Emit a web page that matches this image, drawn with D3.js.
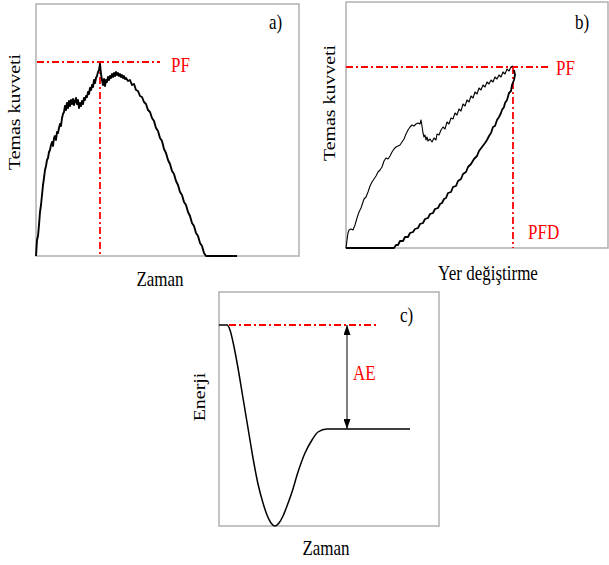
<!DOCTYPE html>
<html><head><meta charset="utf-8">
<script src="https://cdn.jsdelivr.net/npm/d3@7"></script>
<style>
html,body{margin:0;padding:0;background:#fff;}
text{font-family:"Liberation Serif","Times New Roman",serif;}
</style>
</head><body>
<svg id="chart" width="609" height="565"></svg>
<script>
// ---------- Panel a: contact force vs time ----------
const aTime = [0,1,2,3,4,5,6,7,8,9,10,11,12,13,14,15,16,17,18,19,20,21,22,23,24,25,26,27,28,29,30,31,32,33,34,35,36,37,38,39,40,41,42,43,44,45,46,47,48,49,50,51,52,53,54,55,56,57,58,59,60,61,62,63,64,65,66,67,68,69,70,71,72,73,74,75,76,77,78,79,80,81,82,83,84,85,86,87,88,89,90,
  92,94,96,98,100,102,104,106,108,110,112,114,116,118,120,122,124,126,128,130,132,134,136,138,140,142,144,146,148,150,152,154,156,158,160,162,164,166,168,170,201];
const aForce = [0,16,20,31,44,51,61,71,78,86,
  90,96,98,104,106,111,114,110,118,120,
  116,124,123,128,132,130,138,142,144,150,
  146,153,148,155,150,156,152,157,151,155,
  158,152,156,148,153,150,155,152,158,156,
  160,159,164,162,168,166,171,169,176,173,
  178,180,184,186,192,182,176,171,177,170,
  176,174,179,176,180,178,182,179,183,180,
  184,181,183,180,182,179,181,178,180,177,
  178,
  175,176,171,172,166,165,160,159,154,152,146,144,138,135,128,125,118,115,107,103,96,92,85,82,75,71,64,61,54,51,44,40,33,30,23,20,13,10,3,0,
  0];
const aPF = 194, aPFTime = 64, aPFLineEnd = 124;

// ---------- Panel b: contact force vs displacement ----------
const bLoadDisp = [0,1,2,3,5,7,9,11,13,15,17,18,20,22,24,26,28,30,32,34,36,38,40,42,44,46,48,50,52,54,56,58,60,62,64,66,68,70,72,74,75,76,77,78,79,80,81,82,84,86,88,90,91,93,95,97,99,101,103,105,107,109,111,113,115,117,119,121,123,125,127,129,131,133,135,137,139,141,143,145,147,149,151,153,155,157,159,161,163,165,167];
const bLoadForce = [0,8,15,18,19,18,23,30,36,40,46,49,51,56,62,66,69,72,76,78,81,87,90,89,92,96,99,101,102,103,106,109,114,118,121,123,122,124,125,124,128,122,115,111,113,108,111,107,109,106,110,108,114,113,118,121,119,126,124,130,129,135,133,139,137,144,142,148,146,152,150,156,154,160,158,163,161,166,164,168,166,171,169,173,171,176,174,179,177,181,182];
const bUnloadDisp = [168,169,168,166,165,163,161,159,158,156,155,153,151,149,147,145,143,141,139,136,133,131,128,125,122,120,117,115,112,110,107,105,102,100,98,96,94,92,89,87,84,82,79,77,74,72,69,67,64,62,59,57,54,52,50,48,0];
const bUnloadForce = [178,173,168,163,157,155,148,145,141,138,135,131,128,122,121,115,112,108,105,101,97,92,89,84,81,76,74,69,67,62,61,56,55,50,49,45,44,40,39,35,34,30,29,25,24,20,19,16,15,11,11,7,7,3,3,0,0];
const bPF = 181, bPFD = 167, bPFLineEnd = 204;

// ---------- Panel c: energy vs time ----------
const cTime = [0,8,11,14,19,24,29,34,39,44,48,52,56,60,64,68,73,79,86,93,99,108,191];
const cEnergy = [201,201,196,184,158,128,98,68,42,23,11,3,0,3,10,20,34,54,73,86,94,97,97];
const cLineStart = 10, cLineEnd = 160, cArrowTime = 128;

// ---------- Text ----------
const labels = {
  a: {tag: "a)", y: "Temas kuvveti", x: "Zaman", pf: "PF"},
  b: {tag: "b)", y: "Temas kuvveti", x: "Yer değiştirme", pf: "PF", pfd: "PFD"},
  c: {tag: "c)", y: "Enerji", x: "Zaman", ae: "AE"}
};

const svg = d3.select("#chart");
const FS = 17, SY = 1.17;
const RED = "#ff0000", FRAME = "#b0b0b0";
const DASH = "7,3,2,3";

function txt(x, y, s, opts = {}) {
  return svg.append("text")
    .attr("x", 0).attr("y", 0)
    .attr("font-size", opts.size || FS)
    .attr("fill", opts.fill || "#000")
    .attr("text-anchor", opts.anchor || "start")
    .attr("transform", `translate(${x},${y}) scale(1,${SY})` + (opts.rot ? " rotate(-90)" : ""))
    .text(s);
}

function frame(x, y) {
  const [x0, x1] = x.range(), [y0, y1] = y.range();
  svg.append("rect")
    .attr("x", x0).attr("y", y1)
    .attr("width", x1 - x0).attr("height", y0 - y1)
    .attr("fill", "none").attr("stroke", FRAME).attr("stroke-width", 1.5);
}

function redLine(x1, y1, x2, y2) {
  svg.append("line")
    .attr("x1", x1).attr("y1", y1).attr("x2", x2).attr("y2", y2)
    .attr("stroke", RED).attr("stroke-width", 1.8)
    .attr("stroke-dasharray", DASH);
}

function series(xs, ys, xS, yS, width, curve) {
  const pts = xs.map((v, i) => [v, ys[i]]);
  const line = d3.line().x(d => xS(d[0])).y(d => yS(d[1]));
  if (curve) line.curve(curve);
  svg.append("path").datum(pts)
    .attr("d", line)
    .attr("fill", "none").attr("stroke", "#000")
    .attr("stroke-width", width).attr("stroke-linejoin", "round");
}

// ===== Panel a =====
const ax = d3.scaleLinear().domain([0, 263]).range([36, 299]);
const ay = d3.scaleLinear().domain([0, 252]).range([256, 4]);
frame(ax, ay);
redLine(ax(1), ay(aPF), ax(aPFLineEnd), ay(aPF));
redLine(ax(aPFTime), ay(aPF), ax(aPFTime), ay(0));
series(aTime, aForce, ax, ay, 1.9);
txt(171, 72, labels.a.pf, {fill: RED});
txt(269, 29, labels.a.tag);
txt(20, 112, labels.a.y, {rot: true, anchor: "middle"});
txt(160, 286, labels.a.x, {anchor: "middle"});

// ===== Panel b =====
const bx = d3.scaleLinear().domain([0, 262]).range([346, 608]);
const by = d3.scaleLinear().domain([0, 246]).range([248, 2]);
frame(bx, by);
redLine(bx(0), by(bPF), bx(bPFLineEnd), by(bPF));
redLine(bx(bPFD), by(bPF), bx(bPFD), by(0));
series(bLoadDisp, bLoadForce, bx, by, 1.1);
series(bUnloadDisp, bUnloadForce, bx, by, 1.8);
txt(556, 75, labels.b.pf, {fill: RED});
txt(528, 239, labels.b.pfd, {fill: RED});
txt(575, 29, labels.b.tag);
txt(335, 103, labels.b.y, {rot: true, anchor: "middle"});
txt(488, 280, labels.b.x, {anchor: "middle"});

// ===== Panel c =====
const cx = d3.scaleLinear().domain([0, 220]).range([219, 439]);
const cy = d3.scaleLinear().domain([0, 234]).range([526, 292]);
frame(cx, cy);
redLine(cx(cLineStart), cy(cEnergy[0]), cx(cLineEnd), cy(cEnergy[0]));
series(cTime, cEnergy, cx, cy, 1.5, d3.curveMonotoneX);

const defs = svg.append("defs");
defs.append("marker").attr("id", "ah")
  .attr("markerUnits", "userSpaceOnUse")
  .attr("markerWidth", 10).attr("markerHeight", 7)
  .attr("refX", 10).attr("refY", 3.5)
  .attr("orient", "auto-start-reverse")
  .append("path").attr("d", "M0,0 L10,3.5 L0,7 Z").attr("fill", "#000");
svg.append("line")
  .attr("x1", cx(cArrowTime)).attr("x2", cx(cArrowTime))
  .attr("y1", cy(cEnergy[0])).attr("y2", cy(cEnergy[cEnergy.length - 1]))
  .attr("stroke", "#000").attr("stroke-width", 1)
  .attr("marker-start", "url(#ah)").attr("marker-end", "url(#ah)");

txt(353, 380, labels.c.ae, {fill: RED});
txt(400, 322, labels.c.tag);
txt(205, 397, labels.c.y, {rot: true, anchor: "middle"});
txt(326, 555, labels.c.x, {anchor: "middle"});
</script>
</body></html>
